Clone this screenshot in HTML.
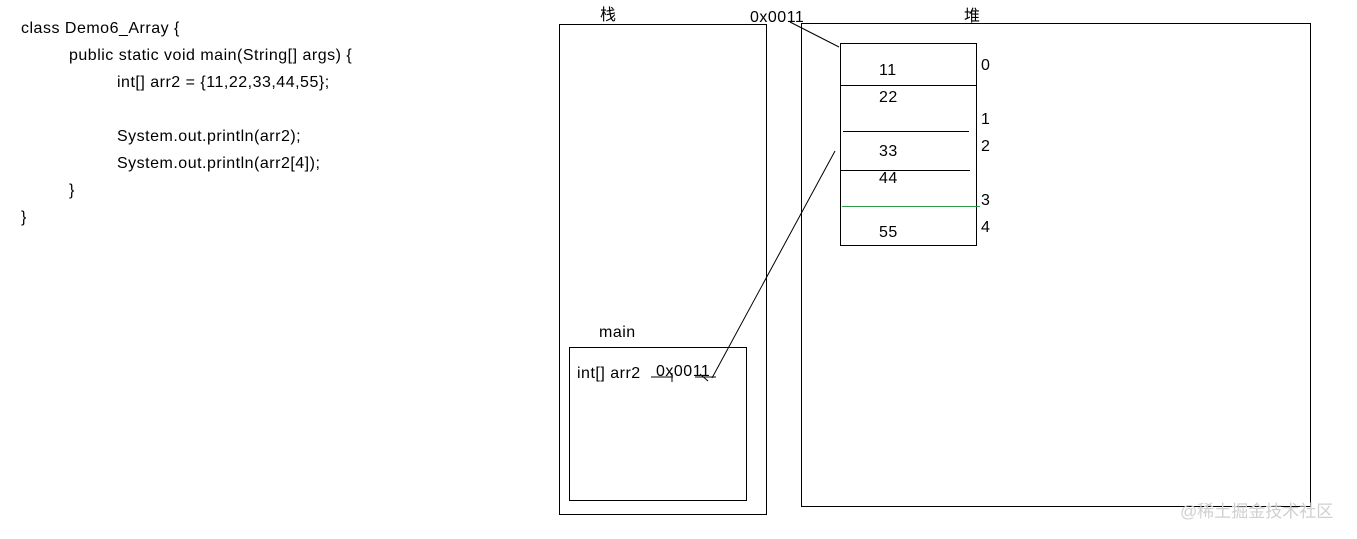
<!DOCTYPE html>
<html><head><meta charset="utf-8"><style>
body{margin:0;width:1357px;height:539px;background:#fff;position:relative;overflow:hidden;font-family:"Liberation Sans","Noto Sans CJK SC",sans-serif;font-size:16px;letter-spacing:0.5px;color:#000}
.t{position:absolute;white-space:nowrap;line-height:1}
</style></head><body>
<div class="t" style="left:21px;top:21px">class Demo6_Array {</div>
<div class="t" style="left:69px;top:48px">public static void main(String[] args) {</div>
<div class="t" style="left:117px;top:75px">int[] arr2 = {11,22,33,44,55};</div>
<div class="t" style="left:117px;top:129px">System.out.println(arr2);</div>
<div class="t" style="left:117px;top:156px">System.out.println(arr2[4]);</div>
<div class="t" style="left:69px;top:183px">}</div>
<div class="t" style="left:21px;top:210px">}</div>
<svg width="1357" height="539" style="position:absolute;left:0;top:0">
<g fill="none" stroke="#000" stroke-width="1">
<rect x="559.5" y="24.5" width="207" height="490"/>
<rect x="801.5" y="23.5" width="509" height="483"/>
<rect x="840.5" y="43.5" width="136" height="202"/>
<line x1="840" y1="85.5" x2="976" y2="85.5"/>
<line x1="843" y1="131.5" x2="969" y2="131.5"/>
<line x1="840" y1="170.5" x2="970" y2="170.5"/>
<rect x="569.5" y="347.5" width="177" height="153"/>
<line x1="790" y1="22" x2="839" y2="47"/>
<line x1="835" y1="151" x2="712" y2="378"/>
<line x1="651" y1="377" x2="673" y2="377"/>
<line x1="672" y1="373" x2="672" y2="382"/>
<line x1="695" y1="377" x2="716" y2="377"/>
<line x1="700" y1="374" x2="708" y2="381"/>
</g>
<line x1="842" y1="206.5" x2="980" y2="206.5" stroke="#2e9a47" stroke-width="1"/>
</svg>
<div class="t" style="left:600px;top:8px">栈</div>
<div class="t" style="left:750px;top:10px">0x0011</div>
<div class="t" style="left:964px;top:9px">堆</div>
<div class="t" style="left:879px;top:63px">11</div>
<div class="t" style="left:879px;top:90px">22</div>
<div class="t" style="left:879px;top:144px">33</div>
<div class="t" style="left:879px;top:171px">44</div>
<div class="t" style="left:879px;top:225px">55</div>
<div class="t" style="left:981px;top:58px">0</div>
<div class="t" style="left:981px;top:112px">1</div>
<div class="t" style="left:981px;top:139px">2</div>
<div class="t" style="left:981px;top:193px">3</div>
<div class="t" style="left:981px;top:220px">4</div>
<div class="t" style="left:599px;top:325px">main</div>
<div class="t" style="left:577px;top:366px">int[] arr2</div>
<div class="t" style="left:656px;top:364px">0x0011</div>
<div class="t" style="left:1180px;top:503px;color:#d0d0d0;font-size:17px;letter-spacing:0">@稀土掘金技术社区</div>
</body></html>
